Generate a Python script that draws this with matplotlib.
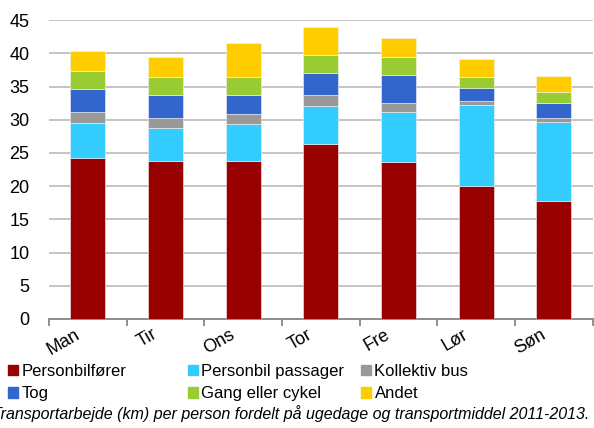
import matplotlib.pyplot as plt
import matplotlib.patches as mpatches
import matplotlib.transforms as mtransforms
import numpy as np

plt.rcParams['font.family'] = ['Liberation Sans', 'DejaVu Sans']

days = ["Man", "Tir", "Ons", "Tor", "Fre", "Lør", "Søn"]
personbilforer = [24.3, 23.8, 23.8, 26.4, 23.7, 20.0, 17.8]
personbil_passager = [5.2, 4.9, 5.5, 5.6, 7.4, 12.2, 11.8]
kollektiv_bus = [1.6, 1.5, 1.6, 1.7, 1.4, 0.6, 0.6]
tog = [3.6, 3.5, 2.9, 3.4, 4.2, 2.0, 2.3]
gang_cykel = [2.7, 2.8, 2.6, 2.7, 2.8, 1.7, 1.7]
andet = [3.0, 2.9, 5.2, 4.1, 2.8, 2.6, 2.4]

series = [
    ("Personbilfører", personbilforer, "#990000"),
    ("Personbil passager", personbil_passager, "#33CCFF"),
    ("Kollektiv bus", kollektiv_bus, "#999999"),
    ("Tog", tog, "#3366CC"),
    ("Gang eller cykel", gang_cykel, "#99CC33"),
    ("Andet", andet, "#FFCC00"),
]

fig = plt.figure(figsize=(5.94, 4.28), dpi=100)
ax = fig.add_axes([0.0825, 0.2547, 0.9155, 0.6983])

x = np.arange(len(days))
bottom = np.zeros(len(days))
handles = []
for name, vals, col in series:
    ax.bar(x, vals, 0.45, bottom=bottom, color=col, edgecolor="#f4f4f4", linewidth=0.4, zorder=3)
    bottom += np.array(vals)
    handles.append(mpatches.Patch(color=col, label=name))

ax.set_xlim(-0.5, len(days) - 0.5)
ax.set_ylim(0, 45)
ax.set_yticks(np.arange(0, 46, 5))
ax.grid(axis="y", color="#BFBFBF", linewidth=1.3, zorder=0)
for s in ["top", "right", "left"]:
    ax.spines[s].set_visible(False)
ax.spines["bottom"].set_color("#868686")
ax.spines["bottom"].set_linewidth(1.3)
ax.tick_params(axis="y", length=0, labelsize=13, pad=14)

ax.set_xticks(np.arange(-0.5, len(days)), minor=False)
ax.set_xticklabels([])
ax.tick_params(axis="x", which="major", length=5, width=1.3, color="#868686", direction="out")
ax.set_xticks(x, minor=True)
ax.set_xticklabels(days, minor=True, rotation=30, ha="right", rotation_mode="anchor", fontsize=13)
ax.tick_params(axis="x", which="minor", length=0, pad=5)
# nudge the day labels left, like the original
shift = mtransforms.ScaledTranslation(-10 / 72, 0, fig.dpi_scale_trans)
for lbl in ax.get_xticklabels(minor=True):
    lbl.set_transform(lbl.get_transform() + shift)

# legend laid out in three fixed columns
col_x = [0.014, 0.316, 0.608]
for i in range(3):
    fig.legend(handles=[handles[i], handles[i + 3]], loc="upper left",
               bbox_to_anchor=(col_x[i], 0.15), frameon=False, fontsize=12,
               handlelength=0.6, handleheight=0.6, handletextpad=0.2,
               labelspacing=0.45, borderaxespad=0, borderpad=0)

fig.text(0.49, 0.015, "Transportarbejde (km) per person fordelt på ugedage og transportmiddel 2011-2013.",
         ha="center", va="bottom", fontsize=11.5, style="italic")

fig.savefig("out.png", dpi=100)
